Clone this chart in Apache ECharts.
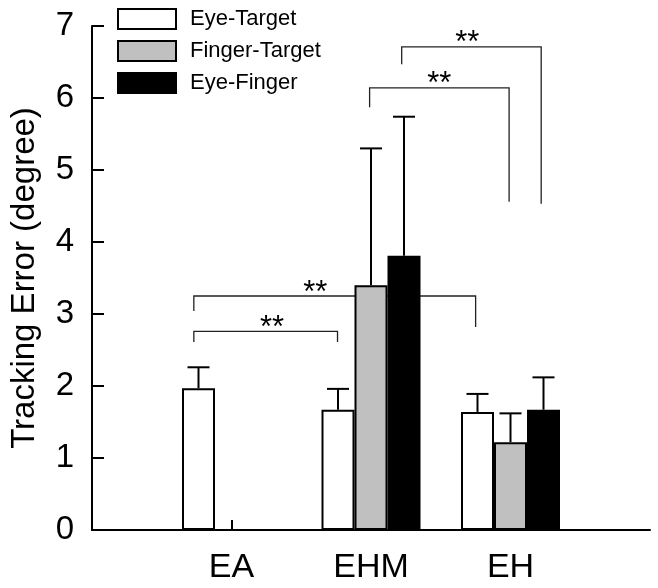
<!DOCTYPE html>
<html>
<head>
<meta charset="utf-8">
<script src="https://cdn.jsdelivr.net/npm/echarts@6/dist/echarts.min.js"></script>
<style>html,body{margin:0;padding:0;background:#fff}#c{width:658px;height:588px}</style>
</head>
<body>
<div id="c"></div>
<script>
// Categories (padding slots at both ends so the axis runs past the groups)
var categories = ['', 'EA', 'EHM', 'EH', ''];
var seriesNames = ['Eye-Target', 'Finger-Target', 'Eye-Finger'];
// Means
var eyeTarget    = [null, 1.97, 1.67, 1.64, null];
var fingerTarget = [null, null, 3.40, 1.22, null];
var eyeFinger    = [null, null, 3.81, 1.67, null];
// Upper ends of the error bars
var eyeTargetErr    = [null, 2.26, 1.96, 1.89, null];
var fingerTargetErr = [null, null, 5.30, 1.62, null];
var eyeFingerErr    = [null, null, 5.74, 2.12, null];
// Y tick values
var yTicks = [0, 1, 2, 3, 4, 5, 6, 7];
// Significance brackets (x in category-axis units, y in degrees)
var brX1     = [0.73, 0.73, 1.99, 2.22];
var brX2     = [1.76, 2.75, 2.99, 3.22];
var brTop    = [2.76, 3.25, 6.14, 6.71];
var brLeft   = [2.61, 3.04, 5.87, 6.47];
var brRight  = [2.61, 2.82, 4.56, 4.53];
var brStarX  = [1.29, 1.60, 2.49, 2.69];
var brLabel  = ['**', '**', '**', '**'];

var FONT = 'Liberation Sans, Arial, sans-serif';
var BAR_W = 33;
var colors = ['#ffffff', '#c0c0c0', '#000000'];
var means = [eyeTarget, fingerTarget, eyeFinger];
var errs = [eyeTargetErr, fingerTargetErr, eyeFingerErr];

var chart = echarts.init(document.getElementById('c'), null, {renderer: 'canvas'});

var barSeries = seriesNames.map(function (n, i) {
  return {
    name: n, type: 'bar', xAxisIndex: 0, yAxisIndex: 0,
    data: means[i], barWidth: BAR_W, barGap: '0%', z: 3,
    itemStyle: {color: colors[i], borderColor: '#000', borderWidth: 2},
    emphasis: {disabled: true}, animation: false
  };
});

var errData = [];
for (var s = 0; s < 3; s++) {
  for (var k = 0; k < categories.length; k++) {
    if (means[s][k] != null) errData.push([k, means[s][k], errs[s][k], s]);
  }
}

var errSeries = {
  type: 'custom', xAxisIndex: 0, yAxisIndex: 0, z: 4, silent: true, animation: false,
  data: errData,
  renderItem: function (params, api) {
    var c = api.value(0), m = api.value(1), e = api.value(2), slot = api.value(3);
    var p0 = api.coord([c, m]);
    var p1 = api.coord([c, e]);
    var x = p0[0] + (slot - 1) * BAR_W;
    return {
      type: 'group',
      children: [
        {type: 'line', shape: {x1: x, y1: p0[1], x2: x, y2: p1[1]}, style: {stroke: '#000', lineWidth: 2}},
        {type: 'line', shape: {x1: x - 11, y1: p1[1], x2: x + 11, y2: p1[1]}, style: {stroke: '#000', lineWidth: 2}}
      ]
    };
  }
};

var brData = brX1.map(function (v, i) { return [brX1[i], brX2[i], brTop[i], brLeft[i], brRight[i], brStarX[i], i]; });
var brSeries = {
  type: 'custom', xAxisIndex: 1, yAxisIndex: 0, z: 1, silent: true, animation: false,
  data: brData,
  renderItem: function (params, api) {
    var x1 = api.value(0), x2 = api.value(1), yt = api.value(2), yl = api.value(3), yr = api.value(4), sx = api.value(5);
    var i = api.value(6);
    var a = api.coord([x1, yt]), b = api.coord([x2, yt]);
    var l = api.coord([x1, yl]), r = api.coord([x2, yr]);
    var st = api.coord([sx, yt]);
    var ls = {stroke: '#222', lineWidth: 1.3, fill: null};
    return {
      type: 'group',
      children: [
        {type: 'polyline', shape: {points: [l, a, b, r]}, style: ls},
        {type: 'text', x: st[0], y: st[1] - 3,
         style: {text: brLabel[i], fill: '#000', font: '31px ' + FONT, align: 'center', verticalAlign: 'middle'}}
      ]
    };
  }
};

chart.setOption({
  animation: false,
  textStyle: {fontFamily: FONT},
  grid: {left: 92, right: 8, top: 26, bottom: 58},
  legend: {
    orient: 'vertical', left: 117, top: 8, padding: 0,
    itemWidth: 58, itemHeight: 20, itemGap: 10, icon: 'rect',
    data: seriesNames,
    textStyle: {fontSize: 22, color: '#000', fontFamily: FONT, padding: [0, 0, 0, 9]},
    selectedMode: false
  },
  xAxis: [{
    type: 'category', data: categories, boundaryGap: false,
    axisLine: {lineStyle: {color: '#000', width: 2}},
    axisTick: {inside: true, length: 10, lineStyle: {color: '#000', width: 2},
               interval: function (idx) { return idx > 0 && idx < categories.length - 1; }},
    axisLabel: {color: '#000', fontSize: 34, margin: 21, fontFamily: FONT, interval: 0},
    splitLine: {show: false}
  }, {
    type: 'value', min: 0, max: categories.length - 1, show: false
  }],
  yAxis: {
    type: 'value', min: yTicks[0], max: yTicks[yTicks.length - 1], interval: 1,
    name: 'Tracking Error (degree)', nameLocation: 'middle', nameGap: 51,
    nameTextStyle: {fontSize: 33, color: '#000', fontFamily: FONT},
    axisLine: {show: true, lineStyle: {color: '#000', width: 2}},
    axisTick: {show: true, inside: true, length: 12, lineStyle: {color: '#000', width: 2}},
    axisLabel: {color: '#000', fontSize: 33, margin: 18, fontFamily: FONT},
    splitLine: {show: false}
  },
  series: [brSeries].concat(barSeries).concat([errSeries])
});
</script>
</body>
</html>
